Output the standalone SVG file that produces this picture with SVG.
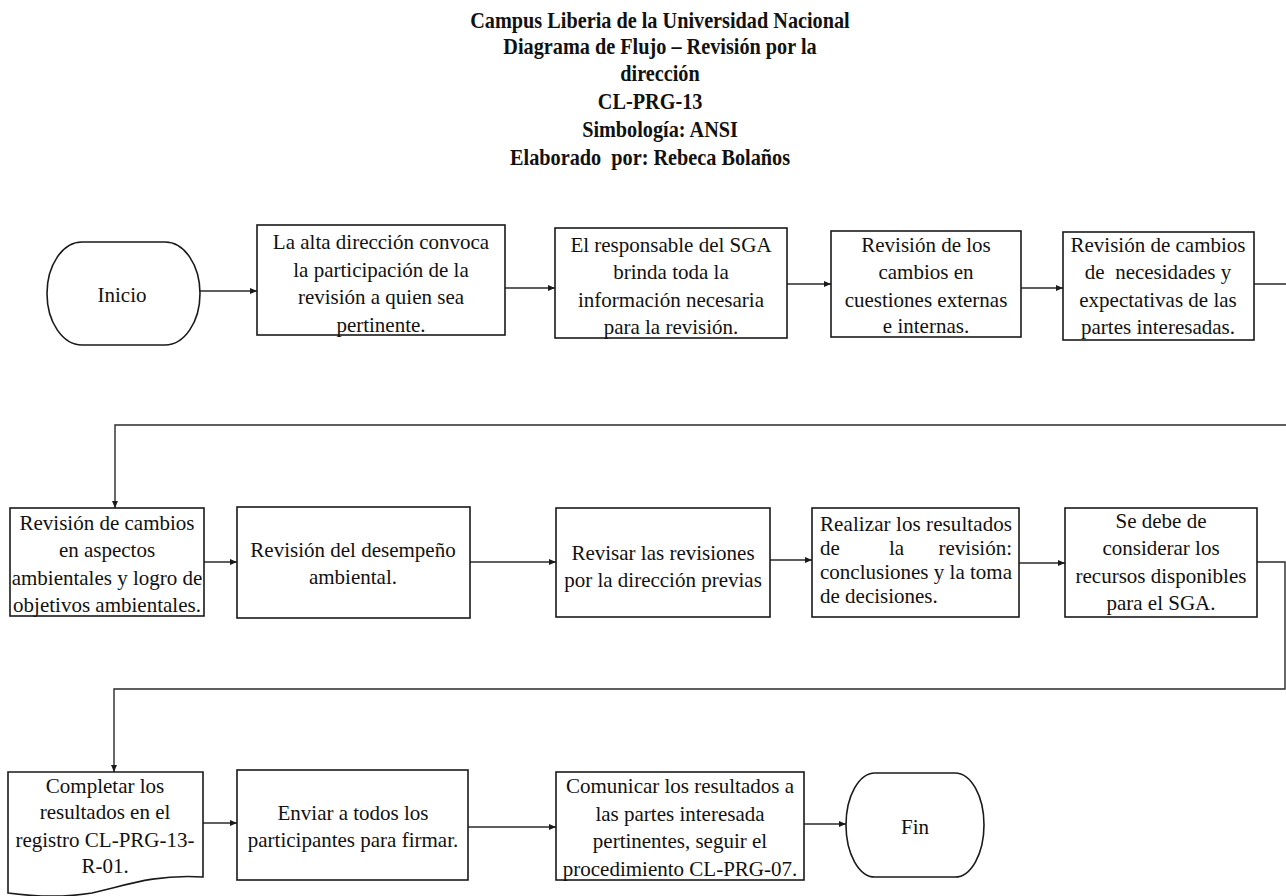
<svg xmlns="http://www.w3.org/2000/svg" width="1286" height="896" viewBox="0 0 1286 896">
  <style>
    .title { font-family: "Liberation Serif", "Times New Roman", serif; font-weight: bold; font-size: 22.5px; text-anchor: middle; fill: #111; }
    .t { font-family: "Liberation Serif", "Times New Roman", serif; font-size: 21px; text-anchor: middle; fill: #111; }
    .ts { font-family: "Liberation Serif", "Times New Roman", serif; font-size: 21px; text-anchor: start; fill: #111; }
    .box { fill: #fff; stroke: #1a1a1a; stroke-width: 1.6; }
    .conn { fill: none; stroke: #2a2a2a; stroke-width: 1.4; marker-end: url(#arrow); }
    .conn2 { fill: none; stroke: #2a2a2a; stroke-width: 1.4; }
  </style>
  <defs>
    <marker id="arrow" markerUnits="userSpaceOnUse" markerWidth="8" markerHeight="7" refX="7" refY="3.5" orient="auto">
      <path d="M0,0.5 L7,3.5 L0,6.5 z" fill="#1a1a1a"/>
    </marker>
  </defs>
  <rect width="1286" height="896" fill="#fff"/>

  <!-- heading -->
  <g id="heading" transform="translate(660,0) scale(0.9,1)">
    <text class="title" x="0" y="28">Campus Liberia de la Universidad Nacional</text>
    <text class="title" x="0" y="54">Diagrama de Flujo – Revisión por la</text>
    <text class="title" x="0" y="81">dirección</text>
    <text class="title" x="-11" y="109">CL-PRG-13</text>
    <text class="title" x="0" y="137">Simbología: ANSI</text>
    <text class="title" x="-11" y="165" style="white-space:pre">Elaborado  por: Rebeca Bolaños</text>
  </g>

  <!-- connectors -->
  <g id="connectors">
    <path class="conn" d="M200,291 H257"/>
    <path class="conn" d="M505,288 H555"/>
    <path class="conn" d="M787,284 H831"/>
    <path class="conn" d="M1021,288 H1063"/>
    <path class="conn" d="M1254,284 H1292 V425 H115 V508"/>
    <path class="conn" d="M204,562 H237"/>
    <path class="conn" d="M470,562 H556"/>
    <path class="conn" d="M770,560 H812"/>
    <path class="conn" d="M1019,563 H1065"/>
    <path class="conn" d="M1257,562 H1285 V689 H114 V772"/>
    <path class="conn" d="M203,823 H237"/>
    <path class="conn" d="M468,827 H556"/>
    <path class="conn" d="M804,824 H846"/>
  </g>

  <!-- row 1 -->
  <g id="inicio">
    <rect class="box" x="47" y="242" width="153" height="103" rx="35" ry="51.5"/>
    <text class="t" x="122" y="302">Inicio</text>
  </g>
  <g id="convocatoria">
    <rect class="box" x="257" y="225" width="248" height="110"/>
    <text class="t" x="381" y="249">La alta dirección convoca</text>
    <text class="t" x="381" y="277">la participación de la</text>
    <text class="t" x="381" y="304">revisión a quien sea</text>
    <text class="t" x="381" y="332">pertinente.</text>
  </g>
  <g id="informacion">
    <rect class="box" x="555" y="228" width="232" height="110"/>
    <text class="t" x="671" y="252">El responsable del SGA</text>
    <text class="t" x="671" y="279">brinda toda la</text>
    <text class="t" x="671" y="307">información necesaria</text>
    <text class="t" x="671" y="334">para la revisión.</text>
  </g>
  <g id="cuestiones">
    <rect class="box" x="831" y="231" width="190" height="106"/>
    <text class="t" x="926" y="252">Revisión de los</text>
    <text class="t" x="926" y="279">cambios en</text>
    <text class="t" x="926" y="307">cuestiones externas</text>
    <text class="t" x="926" y="333">e internas.</text>
  </g>
  <g id="partes-interesadas">
    <rect class="box" x="1063" y="232" width="191" height="108"/>
    <text class="t" x="1158" y="252">Revisión de cambios</text>
    <text class="t" x="1158" y="279" style="white-space:pre">de  necesidades y</text>
    <text class="t" x="1158" y="307">expectativas de las</text>
    <text class="t" x="1158" y="334">partes interesadas.</text>
  </g>

  <!-- row 2 -->
  <g id="aspectos">
    <rect class="box" x="10" y="508" width="194" height="108"/>
    <text class="t" x="107" y="530">Revisión de cambios</text>
    <text class="t" x="107" y="557">en aspectos</text>
    <text class="t" x="107" y="585">ambientales y logro de</text>
    <text class="t" x="107" y="612">objetivos ambientales.</text>
  </g>
  <g id="desempeno">
    <rect class="box" x="237" y="507" width="233" height="111"/>
    <text class="t" x="353" y="557">Revisión del desempeño</text>
    <text class="t" x="353" y="584">ambiental.</text>
  </g>
  <g id="revisiones-previas">
    <rect class="box" x="556" y="508" width="214" height="109"/>
    <text class="t" x="663" y="560">Revisar las revisiones</text>
    <text class="t" x="663" y="587">por la dirección previas</text>
  </g>
  <g id="resultados">
    <rect class="box" x="812" y="508" width="207" height="109"/>
    <text class="ts" x="820" y="531" textLength="192" lengthAdjust="spacing">Realizar los resultados</text>
    <text class="ts" x="820" y="555">de</text>
    <text class="ts" x="889" y="555">la</text>
    <text class="t" x="1012" y="555" style="text-anchor:end">revisión:</text>
    <text class="ts" x="820" y="579" textLength="192" lengthAdjust="spacing">conclusiones y la toma</text>
    <text class="ts" x="820" y="603">de decisiones.</text>
  </g>
  <g id="recursos">
    <rect class="box" x="1065" y="508" width="192" height="109"/>
    <text class="t" x="1161" y="528">Se debe de</text>
    <text class="t" x="1161" y="555">considerar los</text>
    <text class="t" x="1161" y="583">recursos disponibles</text>
    <text class="t" x="1161" y="610">para el SGA.</text>
  </g>

  <!-- row 3 -->
  <g id="registro">
    <path class="box" d="M8,772 H203 V877 C150,874 122,887 92,893 C62,898 30,896 8,893 Z"/>
    <text class="t" x="105" y="793">Completar los</text>
    <text class="t" x="105" y="819">resultados en el</text>
    <text class="t" x="105" y="847">registro CL-PRG-13-</text>
    <text class="t" x="105" y="873">R-01.</text>
  </g>
  <g id="firmas">
    <rect class="box" x="237" y="770" width="231" height="110"/>
    <text class="t" x="353" y="820">Enviar a todos los</text>
    <text class="t" x="353" y="847">participantes para firmar.</text>
  </g>
  <g id="comunicar">
    <rect class="box" x="556" y="772" width="248" height="108"/>
    <text class="t" x="680" y="793">Comunicar los resultados a</text>
    <text class="t" x="680" y="821">las partes interesada</text>
    <text class="t" x="680" y="848">pertinentes, seguir el</text>
    <text class="t" x="680" y="876">procedimiento CL-PRG-07.</text>
  </g>
  <g id="fin">
    <rect class="box" x="846" y="773" width="138" height="104" rx="29" ry="52"/>
    <text class="t" x="915" y="834">Fin</text>
  </g>
</svg>
